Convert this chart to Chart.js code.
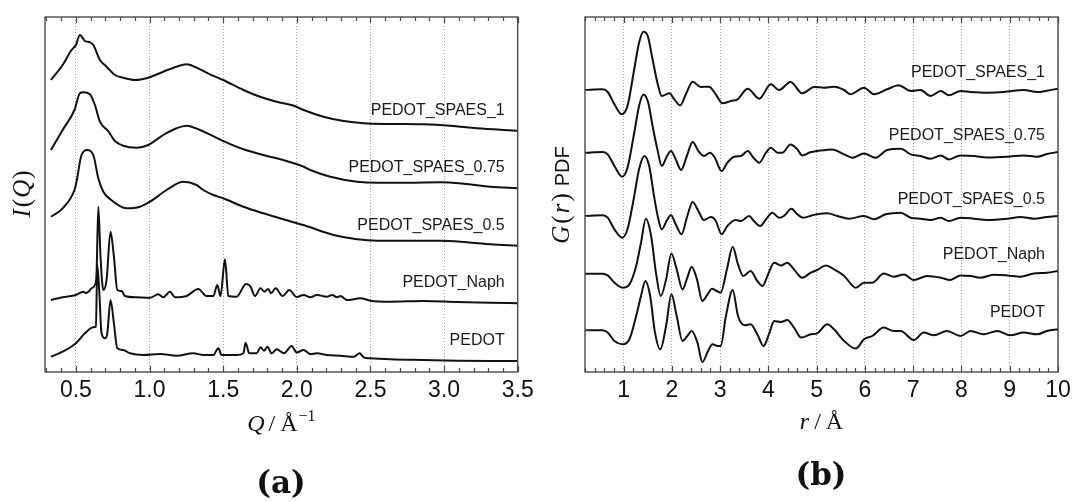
<!DOCTYPE html>
<html>
<head>
<meta charset="utf-8">
<script src="https://cdn.jsdelivr.net/npm/chart.js@4.4.1/dist/chart.umd.min.js"></script>
<style>
  html, body { margin: 0; padding: 0; background: #fff; }
  #page { position: relative; width: 1072px; height: 502px; overflow: hidden; }
  .panel { position: absolute; top: 0; width: 536px; height: 502px; }
  .tag { position: absolute; font: bold 31px 'DejaVu Serif', serif; color: #111; transform: translate(-50%, -50%); }
</style>
</head>
<body>
<div id="page">
  <div class="panel" style="left:0"><canvas id="chartQ"></canvas></div>
  <div class="panel" style="left:536px"><canvas id="chartR"></canvas></div>
  <div class="tag" style="left:281px; top:482px">(a)</div>
  <div class="tag" style="left:821px; top:474px">(b)</div>
</div>
<script>
// samples, bottom to top
const sampleNames = ['PEDOT', 'PEDOT_Naph', 'PEDOT_SPAES_0.5', 'PEDOT_SPAES_0.75', 'PEDOT_SPAES_1'];

// x tick labels
const qTicks = [0.5, 1.0, 1.5, 2.0, 2.5, 3.0, 3.5];
const rTicks = [1, 2, 3, 4, 5, 6, 7, 8, 9, 10];

// vertical shift of each trace (a.u.)
const iqOffsets = [0, 60, 120, 180, 240];
const grOffsets = [41.7, 98.3, 156, 219.3, 282];

// I(Q) traces, [Q, I] in a.u.
const iqPedot = [
  [0.33, 15.3], [0.41, 20.3], [0.50, 28.7], [0.561, 38.7], [0.618, 44.7], [0.636, 45.3], [0.645, 107],
  [0.658, 82], [0.674, 38.7], [0.697, 33.7], [0.713, 38.7], [0.735, 72], [0.758, 48.7], [0.781, 23.7],
  [0.821, 22], [0.867, 18.7], [0.957, 17], [1.071, 18], [1.183, 16.3], [1.297, 18.7], [1.365, 17],
  [1.433, 17], [1.467, 23.7], [1.489, 17], [1.591, 17], [1.637, 18.7], [1.652, 29.3], [1.677, 18.7],
  [1.727, 18.7], [1.754, 24.7], [1.777, 21.3], [1.80, 25.3], [1.829, 18.7], [1.863, 22.7], [1.913, 18.7],
  [1.965, 26], [1.999, 19.5], [2.046, 22], [2.092, 18], [2.137, 18.7], [2.205, 17], [2.296, 16.3],
  [2.387, 15.3], [2.427, 18.7], [2.454, 14.7], [2.50, 13.7], [2.635, 12.7], [2.86, 12], [3.088, 11.3],
  [3.315, 11], [3.50, 11]
];
const iqNaph = [
  [0.33, 12], [0.41, 14.7], [0.50, 17], [0.55, 20.3], [0.565, 19], [0.584, 20.3], [0.606, 23.7],
  [0.629, 27], [0.640, 38.7], [0.652, 105.3], [0.667, 55.3], [0.686, 22], [0.708, 32], [0.735, 80.3],
  [0.758, 55.3], [0.781, 22], [0.81, 21], [0.833, 16], [0.912, 14.7], [1.003, 14.3], [1.059, 17.7],
  [1.093, 14.7], [1.139, 20.3], [1.173, 14.7], [1.251, 16], [1.331, 23], [1.387, 16], [1.433, 16],
  [1.46, 27], [1.482, 16], [1.512, 52.7], [1.535, 16], [1.591, 15.3], [1.655, 28], [1.686, 25.3],
  [1.716, 16], [1.754, 23.7], [1.779, 20.3], [1.806, 23], [1.825, 18.7], [1.856, 23.7], [1.904, 16],
  [1.949, 22], [1.999, 15], [2.046, 17], [2.092, 14.7], [2.137, 17], [2.205, 15.3], [2.239, 17],
  [2.273, 14.7], [2.296, 16], [2.341, 12], [2.432, 13.7], [2.50, 11.3], [2.635, 10.3], [2.86, 11],
  [3.088, 10], [3.315, 9.3], [3.50, 8.7]
];
const iqSpaes05 = [
  [0.33, 35.3], [0.41, 43.7], [0.49, 62], [0.504, 70.3], [0.538, 97], [0.577, 102], [0.618, 97],
  [0.652, 73.7], [0.686, 60.3], [0.731, 53], [0.844, 43.7], [0.935, 45.3], [1.003, 50.3], [1.116, 62],
  [1.229, 70.3], [1.319, 67], [1.365, 62], [1.433, 57], [1.50, 53.7], [1.637, 45.3], [1.773, 38.7],
  [1.908, 32.7], [2.044, 27], [2.25, 17], [2.409, 12.7], [2.545, 11.3], [2.749, 11.3], [2.975, 11.3],
  [3.156, 9.7], [3.315, 7.7], [3.50, 6.3]
];
const iqSpaes075 = [
  [0.33, 42], [0.41, 62], [0.49, 82], [0.527, 98.7], [0.55, 99.7], [0.595, 97.7], [0.629, 87],
  [0.663, 70.3], [0.719, 61], [0.765, 51], [0.821, 46.3], [0.912, 44.3], [0.991, 47], [1.093, 57],
  [1.183, 63.7], [1.251, 66.3], [1.342, 62], [1.50, 51], [1.637, 42.7], [1.772, 37], [1.908, 32],
  [2.044, 25.5], [2.092, 22], [2.228, 15.3], [2.409, 10.3], [2.545, 9.3], [2.749, 9.3], [2.975, 9.7],
  [3.133, 8.3], [3.315, 5.3], [3.50, 3.7]
];
const iqSpaes1 = [
  [0.33, 52], [0.41, 67], [0.47, 82], [0.50, 87], [0.527, 97], [0.561, 91], [0.595, 89.7], [0.618, 87],
  [0.663, 72], [0.708, 65.3], [0.765, 57], [0.821, 54.3], [0.90, 52], [0.991, 54.3], [1.093, 60.3],
  [1.183, 65.3], [1.251, 67.7], [1.319, 64.3], [1.41, 57.7], [1.50, 52], [1.637, 42], [1.75, 35.3],
  [1.863, 30.3], [1.976, 26.5], [2.046, 22], [2.18, 15.3], [2.318, 11], [2.454, 8.7], [2.635, 8],
  [2.861, 7.7], [3.043, 6.3], [3.224, 3.7], [3.405, 2], [3.50, 1.3]
];

// G(r) traces, [r, G] in a.u.
const grPedot = [
  [0.2, 0], [0.57, 0], [0.67, -2.3], [0.81, -10.7], [0.98, -14], [1.12, -9], [1.26, 14.3], [1.36, 34.3],
  [1.45, 49.3], [1.55, 34.3], [1.65, -2.3], [1.76, -19], [1.88, 4.3], [1.99, 36], [2.10, 14.3],
  [2.22, -10.7], [2.32, -5.7], [2.41, -0.7], [2.53, -12.3], [2.63, -31.7], [2.75, -20.7], [2.84, -14],
  [2.95, -15.7], [3.01, -15.7], [3.12, 14.3], [3.26, 40.3], [3.37, 14.3], [3.51, 5], [3.63, 6],
  [3.77, -4], [3.90, -15.7], [4.01, -4], [4.12, 9.3], [4.26, 8.3], [4.39, 10.3], [4.53, 2.7],
  [4.68, -7.3], [4.88, -4], [5.01, -3], [5.22, 6], [5.36, 1], [5.57, -10.7], [5.81, -18.3], [5.98, -9],
  [6.15, -5.7], [6.39, 2.7], [6.60, -0.7], [6.74, -0.7], [7.01, -9.7], [7.22, -2.3], [7.43, -5],
  [7.70, -0.7], [7.98, -5.7], [8.19, -0.7], [8.46, -4], [8.74, -0.7], [9.01, -5], [9.29, -2.3],
  [9.57, -4], [9.77, -0.7], [10, 1]
];
const grNaph = [
  [0.2, 0], [0.57, 0], [0.67, -1.7], [0.81, -9], [0.98, -14], [1.12, -10.7], [1.26, 7.7], [1.36, 31],
  [1.46, 55], [1.57, 37.7], [1.67, 1], [1.77, -22.3], [1.88, -5.7], [1.99, 20.3], [2.10, 4.3],
  [2.22, -15.7], [2.32, -4], [2.41, 7], [2.52, -5.7], [2.63, -27.3], [2.74, -20.7], [2.83, -15],
  [2.93, -17.3], [3.01, -19], [3.14, 4.3], [3.26, 27], [3.37, 9.3], [3.48, -2.3], [3.63, 2.7],
  [3.77, -7.3], [3.88, -12.3], [3.98, -2.3], [4.12, 11], [4.26, 8.3], [4.39, 11], [4.53, 4.3],
  [4.70, -4], [4.88, 1], [5.01, 3.7], [5.19, 8.3], [5.36, 4.3], [5.57, -2.3], [5.81, -14], [5.98, -9],
  [6.15, -9], [6.39, 0.3], [6.60, -3], [6.81, -0.7], [7.01, -6.3], [7.29, -2.3], [7.57, -4], [7.77, -6.3],
  [7.98, -1.7], [8.19, -2.3], [8.39, -4], [8.67, -1], [8.95, -1.7], [9.22, -3], [9.50, 0.3], [9.77, 1],
  [10, 2.7]
];
const grSpaes05 = [
  [0.2, 0], [0.57, 0.7], [0.67, -1.7], [0.81, -13.3], [0.97, -21.7], [1.08, -13.3], [1.22, 20],
  [1.32, 46.7], [1.43, 60], [1.53, 50], [1.63, 20], [1.72, -3.3], [1.79, -13.3], [1.90, -4], [1.98, 1],
  [2.08, -8.3], [2.20, -18.3], [2.32, 0], [2.43, 14], [2.55, 5], [2.66, -4], [2.81, -1], [2.91, -5],
  [3.03, -18.3], [3.15, -10], [3.32, -4], [3.43, -5], [3.60, 0], [3.70, -5], [3.83, -10], [3.95, -3.3],
  [4.08, 3.3], [4.22, -1.7], [4.32, 0], [4.48, 7.3], [4.60, 1.7], [4.72, -1.7], [4.91, 0.7], [5.01, 1.7],
  [5.22, 2.7], [5.43, 0], [5.67, -2.7], [5.98, 0], [6.19, -3.3], [6.43, 1.7], [6.74, 3.3], [6.95, -1.7],
  [7.15, -2.7], [7.36, -4], [7.57, -1.7], [7.74, -5], [7.98, -1.7], [8.26, -2.7], [8.53, -4],
  [8.95, -2.7], [9.22, -1], [9.50, -2.7], [9.77, -1], [10, 0]
];
const grSpaes075 = [
  [0.2, 0], [0.57, 0.7], [0.67, -1.7], [0.81, -13.3], [0.97, -24], [1.08, -15], [1.22, 20], [1.32, 46.7],
  [1.41, 58.3], [1.51, 50], [1.60, 26.7], [1.70, 3.3], [1.79, -13.3], [1.90, -3.3], [1.98, 1.7],
  [2.08, -6.7], [2.19, -17.3], [2.31, -3.3], [2.43, 10.7], [2.55, 1.7], [2.67, -3.3], [2.79, 0],
  [2.89, -5], [3.03, -18.3], [3.15, -10], [3.29, -4], [3.43, -3.3], [3.57, 1.7], [3.69, -5], [3.81, -10],
  [3.95, 0], [4.05, 5], [4.19, 0], [4.29, 0], [4.46, 8.3], [4.60, 3.3], [4.70, -2.7], [4.88, 0.7],
  [5.01, 1.7], [5.32, 3.3], [5.57, -1.7], [5.74, -5], [5.98, -0.7], [6.22, -5], [6.46, 2.7], [6.74, 4],
  [6.95, -1.7], [7.15, -3.3], [7.36, -6], [7.57, -2.7], [7.74, -6.7], [7.98, -2.7], [8.26, -3.3],
  [8.53, -4.7], [8.95, -4], [9.29, -2.7], [9.57, -4], [9.77, -1.3], [10, 0.7]
];
const grSpaes1 = [
  [0.2, 0], [0.57, 0.7], [0.67, -2], [0.81, -14.3], [0.96, -24.3], [1.08, -16], [1.22, 20.7],
  [1.32, 47.3], [1.41, 58.3], [1.50, 54], [1.60, 30.7], [1.70, 7.3], [1.79, -6], [1.95, -3.3],
  [2.05, -9.3], [2.17, -15.3], [2.29, -4.3], [2.43, 8.3], [2.60, 3], [2.77, 3.3], [2.91, -4.3],
  [3.05, -13.3], [3.22, -11], [3.36, -9.3], [3.57, 1.3], [3.81, -8.7], [4.05, 5.7], [4.22, 0],
  [4.46, 8], [4.70, -3.3], [4.95, 3], [5.15, 2.3], [5.36, 3.3], [5.57, 0], [5.70, -4.3], [5.98, 2.3],
  [6.19, -4.3], [6.46, 0.7], [6.70, 4.7], [6.95, -1], [7.15, 0], [7.36, -6], [7.57, -1], [7.74, -5.3],
  [7.98, -1], [8.19, -2], [8.53, -2.7], [8.88, -2], [9.29, 0], [9.57, -2], [9.77, -0.7], [10, 1.3]
];

const SANS = '"Liberation Sans", Arial, Helvetica, sans-serif';
const SERIF = '"Liberation Serif", "Times New Roman", serif';
const FRAME = '#4a4a4a';

// draws a run of differently styled pieces centred on x
function drawRich(ctx, parts, x, y) {
  let width = 0;
  parts.forEach(([text, font, raise = 0, gap = 0]) => {
    ctx.font = font;
    width += ctx.measureText(text).width + gap;
  });
  let cx = x - width / 2;
  parts.forEach(([text, font, raise = 0, gap = 0]) => {
    ctx.font = font;
    ctx.fillText(text, cx, y - raise);
    cx += ctx.measureText(text).width + gap;
  });
}

const panelDecor = {
  id: 'panelDecor',
  afterDatasetsDraw(chart, args, opts) {
    const { ctx, chartArea: a, scales: { x, y } } = chart;
    ctx.save();
    ctx.strokeStyle = FRAME;
    ctx.lineWidth = 1.2;
    ctx.beginPath();
    const first = Math.ceil(x.min / opts.minorStep - 1e-6);
    for (let k = first; k * opts.minorStep <= x.max + 1e-6; k++) {
      const v = k * opts.minorStep;
      const major = opts.majorTicks.some((t) => Math.abs(t - v) < 1e-6);
      const len = major ? 6 : 4;
      const px = Math.round(x.getPixelForValue(v)) + 0.5;
      ctx.moveTo(px, a.bottom);
      ctx.lineTo(px, a.bottom - len);
      ctx.moveTo(px, a.top);
      ctx.lineTo(px, a.top + len);
    }
    (opts.leftTicks || []).forEach((v) => {
      const py = Math.round(y.getPixelForValue(v)) + 0.5;
      ctx.moveTo(a.left, py);
      ctx.lineTo(a.left + 5, py);
    });
    ctx.stroke();

    ctx.lineWidth = 1.4;
    ctx.strokeRect(a.left, a.top, a.right - a.left, a.bottom - a.top);

    // sample name above the right end of each trace
    ctx.fillStyle = '#1a1a1a';
    ctx.font = '16px ' + SANS;
    ctx.textAlign = 'right';
    ctx.textBaseline = 'middle';
    chart.data.datasets.forEach((ds) => {
      const last = ds.data[ds.data.length - 1];
      ctx.fillText(ds.label, a.right - 13, y.getPixelForValue(last.y) - opts.labelGap);
    });
    ctx.restore();
  },
  afterDraw(chart, args, opts) {
    const { ctx, chartArea: a } = chart;
    ctx.save();
    ctx.fillStyle = '#111';
    ctx.textAlign = 'left';
    ctx.textBaseline = 'alphabetic';
    drawRich(ctx, opts.xTitle, (a.left + a.right) / 2, opts.xTitleY);
    ctx.translate(opts.yTitleX, opts.yTitleY);
    ctx.rotate(-Math.PI / 2);
    drawRich(ctx, opts.yTitle, 0, 8);
    ctx.restore();
  },
};

function buildChart(canvasId, spec) {
  return new Chart(document.getElementById(canvasId), {
    type: 'line',
    data: {
      datasets: spec.traces.map((pts, i) => ({
        label: sampleNames[i],
        data: pts.map(([px, py]) => ({ x: px, y: py + spec.offsets[i] })),
        borderColor: '#111',
        borderWidth: 2,
        borderJoinStyle: 'round',
        pointRadius: 0,
        cubicInterpolationMode: 'monotone',
        fill: false,
      })),
    },
    options: {
      responsive: true,
      maintainAspectRatio: false,
      animation: false,
      events: [],
      layout: { padding: spec.padding },
      plugins: {
        legend: { display: false },
        tooltip: { enabled: false },
        panelDecor: spec.decor,
      },
      scales: {
        x: {
          type: 'linear',
          min: spec.min,
          max: spec.max,
          afterBuildTicks: (scale) => {
            scale.ticks = spec.ticks.map((value) => ({ value }));
          },
          afterFit: (scale) => {
            scale.height = 130;
            scale.paddingLeft = 0;
            scale.paddingRight = 0;
          },
          grid: { color: '#a0a0a0', lineWidth: 1, drawTicks: false },
          border: { display: false, dash: [1, 2] },
          ticks: {
            autoSkip: false,
            maxRotation: 0,
            padding: 5,
            color: '#111',
            font: { family: SANS, size: 23 },
            callback: spec.format,
          },
        },
        y: { display: false, min: 0, max: 355 },
      },
    },
    plugins: [panelDecor],
  });
}

buildChart('chartQ', {
  traces: [iqPedot, iqNaph, iqSpaes05, iqSpaes075, iqSpaes1],
  offsets: iqOffsets,
  min: 0.29,
  max: 3.5,
  ticks: qTicks,
  format: (v) => v.toFixed(1),
  padding: { left: 45, right: 18.3, top: 17, bottom: 0 },
  decor: {
    minorStep: 0.1,
    majorTicks: qTicks,
    labelGap: 20.5,
    xTitleY: 431,
    xTitle: [['Q', 'italic 24px ' + SERIF, 0, 4], ['/', '24px ' + SERIF, 0, 5], ['Å', '24px ' + SERIF, 0, 1], ['−1', '16px ' + SERIF, 10]],
    yTitleX: 22,
    yTitleY: 194,
    yTitle: [['I', 'italic 25px ' + SERIF, 0, 2], ['(', '25px ' + SERIF, 0, 1], ['Q', 'italic 25px ' + SERIF, 0, 1], [')', '25px ' + SERIF]],
  },
});

buildChart('chartR', {
  traces: [grPedot, grNaph, grSpaes05, grSpaes075, grSpaes1],
  offsets: grOffsets,
  min: 0.2,
  max: 10,
  ticks: rTicks,
  format: (v) => String(v),
  padding: { left: 49, right: 14, top: 17, bottom: 0 },
  decor: {
    minorStep: 0.2,
    majorTicks: rTicks,
    labelGap: 16.5,
    leftTicks: grOffsets,
    xTitleY: 429,
    xTitle: [['r', 'italic 24px ' + SERIF, 0, 5], ['/', '24px ' + SERIF, 0, 5], ['Å', '24px ' + SERIF]],
    yTitleX: 25,
    yTitleY: 195,
    yTitle: [['G', 'italic 25px ' + SERIF, 0, 2], ['(', '25px ' + SERIF, 0, 2], ['r', 'italic 25px ' + SERIF, 0, 2], [')', '25px ' + SERIF, 0, 7], ['PDF', '20px ' + SANS]],
  },
});
</script>
</body>
</html>
